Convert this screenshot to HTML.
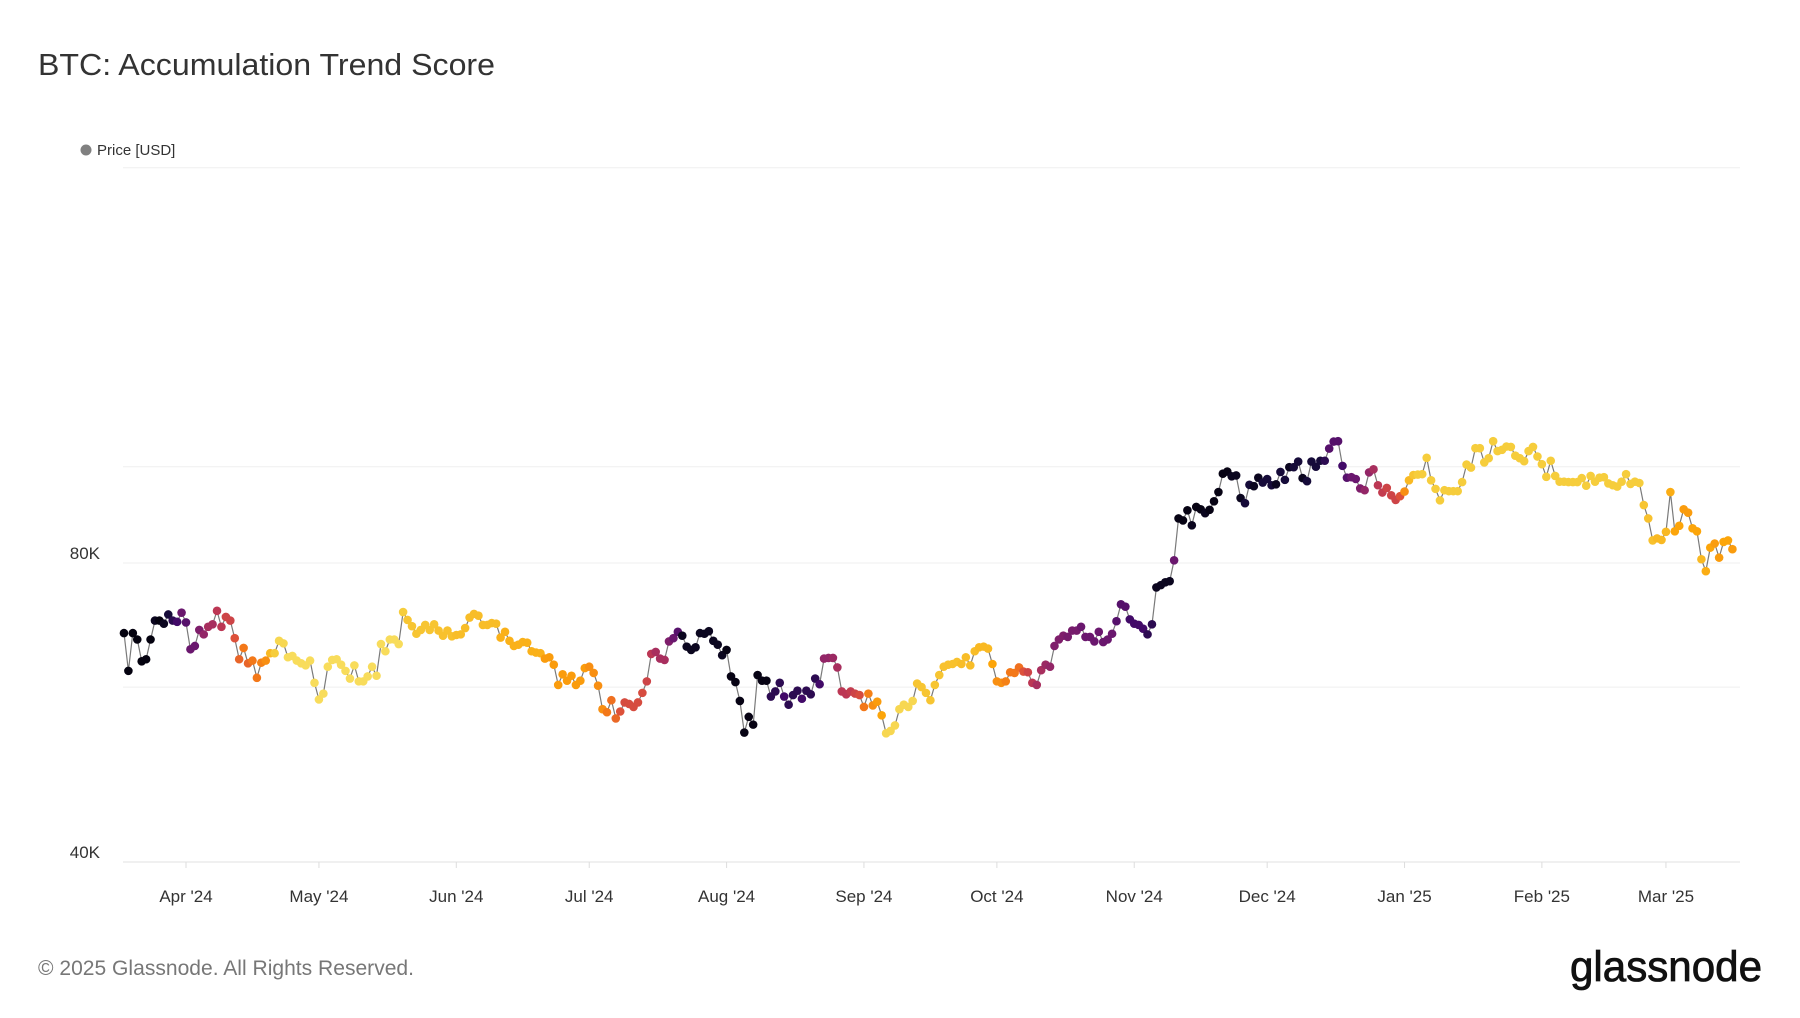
<!DOCTYPE html>
<html><head><meta charset="utf-8">
<style>
html,body{margin:0;padding:0;background:#fff;}
body{width:1800px;height:1013px;overflow:hidden;font-family:"Liberation Sans",sans-serif;}
svg text{font-family:"Liberation Sans",sans-serif;}
</style></head>
<body>
<svg id="chart" width="1800" height="1013" viewBox="0 0 1800 1013" xmlns="http://www.w3.org/2000/svg">
<text x="38" y="75" font-size="31" fill="#333" textLength="457" lengthAdjust="spacingAndGlyphs">BTC: Accumulation Trend Score</text>
<g>
<circle cx="86" cy="150" r="5.5" fill="#808080"/>
<text x="97" y="155" font-size="15" fill="#333">Price [USD]</text>
</g>
<g id="grid"></g>
<g id="yaxis"></g>
<g id="xaxis"></g>
<g id="series"></g>
<text x="38" y="975" font-size="21" fill="#777" textLength="376" lengthAdjust="spacingAndGlyphs">© 2025 Glassnode. All Rights Reserved.</text>
<text x="1762" y="981" text-anchor="end" font-size="43" fill="#111" stroke="#111" stroke-width="0.8" textLength="192" lengthAdjust="spacingAndGlyphs">glassnode</text>
</svg>
<script>
const gridValues=[40000,60000,80000,100000,200000];
const yTickValues=[40000,80000];
const yTickLabels=['40K','80K'];
const monthTickIndex=[14,44,75,105,136,167,197,228,258,289,320,348];
const monthTickLabels=["Apr '24","May '24","Jun '24","Jul '24","Aug '24","Sep '24","Oct '24","Nov '24","Dec '24","Jan '25","Feb '25","Mar '25"];
const prices=[
68000,62300,68000,67000,63700,64000,67000,70000,70000,69500,71000,70000,69800,71300,
69700,65500,66000,68500,67800,69000,69400,71600,69000,70600,70000,67200,64000,65700,63400,63800,61300,63500,63800,64900,64900,66800,66400,64300,64500,63800,63400,63100,63800,60600,
58300,59100,62900,63900,64000,63200,62300,61200,63100,60800,60800,61500,62900,61600,66300,65200,67000,67000,66300,71400,70100,69100,67900,68500,69300,68500,69400,68400,67600,68400,67500,
67700,67800,68800,70500,71100,70800,69300,69300,69600,69500,67300,68200,66800,66000,66200,66600,66500,65200,65000,64900,64100,64300,63200,60300,61800,60900,61600,60300,60900,62700,
62900,62000,60200,57000,56600,58200,55800,56700,57900,57700,57300,57900,59200,60800,64800,65100,64100,63900,66700,67200,68200,67600,65900,65400,65800,68000,67900,68300,66800,66200,64600,
65400,61500,60700,58100,54000,56000,55000,61700,60900,60900,58700,59400,60600,58700,57600,58900,59500,58400,59500,59000,61200,60400,64100,64200,64200,62800,59400,59000,59400,59100,58900,
57300,59100,57500,58000,56200,53900,54200,54900,57000,57600,57300,58100,60500,60000,59200,58200,60300,61700,62900,63200,63300,63600,63300,64300,63100,65200,65800,65900,65600,63300,
60800,60600,60800,62100,62000,62800,62200,62100,60600,60300,62400,63200,62900,66000,67000,67600,67400,68400,68400,69000,67400,67400,66700,68200,66600,67000,67900,69900,72700,72300,70200,
69500,69300,68700,67800,69400,75600,76000,76500,76700,80500,88700,88300,90400,87300,91100,90600,89800,90500,92300,94300,98400,98900,97800,98000,93000,91900,95900,95600,97500,96400,
97200,95800,96000,98800,97000,99900,99900,101200,97400,96700,101200,100000,101400,101400,104300,106000,106100,100200,97500,97600,97200,95100,94700,98700,99400,95800,94200,95200,93600,92600,93400,
94400,96900,98100,98200,98300,102100,96900,95000,92500,94700,94500,94500,94500,96500,100500,99800,104400,104400,101000,102000,106100,103700,104000,104800,104700,102600,102000,101300,103700,104700,102400,
100600,97700,101400,97900,96600,96600,96500,96500,96500,97400,95700,97900,96600,97500,97600,96200,95800,95500,96600,98300,96100,96600,96300,91500,88700,84300,84700,84400,
86000,94300,86100,87200,90600,89900,86700,86100,80700,78500,82900,83700,81000,84000,84300,82600
];
const scores=[
0.02,0.02,0.02,0.02,0.02,0.02,0.02,0.05,0.02,0.05,0.1,0.15,0.2,0.3,
0.25,0.3,0.3,0.35,0.4,0.45,0.45,0.5,0.5,0.55,0.55,0.6,0.65,0.7,0.65,0.7,0.7,0.72,0.75,0.85,0.9,0.92,0.92,0.93,0.93,0.93,0.93,0.93,0.93,0.93,
0.93,0.93,0.93,0.93,0.93,0.93,0.93,0.93,0.93,0.93,0.93,0.93,0.93,0.93,0.93,0.93,0.93,0.93,0.93,0.9,0.88,0.88,0.88,0.88,0.88,0.88,0.88,0.87,0.87,0.87,0.87,
0.86,0.86,0.86,0.86,0.86,0.86,0.86,0.86,0.86,0.86,0.83,0.83,0.83,0.83,0.83,0.83,0.83,0.83,0.83,0.83,0.78,0.78,0.78,0.78,0.78,0.78,0.78,0.78,0.78,0.78,
0.75,0.75,0.75,0.75,0.7,0.68,0.66,0.6,0.58,0.58,0.58,0.58,0.58,0.55,0.5,0.45,0.45,0.45,0.35,0.3,0.25,0.05,0.05,0.05,0.05,0.05,0.05,0.05,0.05,0.05,0.05,
0.03,0.03,0.03,0.03,0.03,0.03,0.03,0.03,0.03,0.03,0.15,0.15,0.15,0.2,0.15,0.15,0.15,0.2,0.15,0.15,0.15,0.2,0.4,0.4,0.42,0.45,0.5,0.5,0.52,0.55,0.58,
0.7,0.72,0.75,0.78,0.8,0.92,0.92,0.92,0.92,0.92,0.92,0.92,0.88,0.88,0.88,0.88,0.88,0.88,0.87,0.87,0.87,0.87,0.86,0.86,0.86,0.86,0.85,0.85,0.85,0.8,
0.75,0.75,0.72,0.7,0.7,0.68,0.6,0.55,0.5,0.45,0.45,0.42,0.4,0.35,0.35,0.35,0.33,0.33,0.33,0.3,0.3,0.3,0.3,0.3,0.3,0.3,0.3,0.25,0.25,0.25,0.2,
0.2,0.2,0.2,0.15,0.15,0.05,0.05,0.05,0.05,0.3,0.03,0.03,0.03,0.05,0.03,0.03,0.05,0.03,0.03,0.03,0.03,0.03,0.05,0.05,0.05,0.1,0.1,0.05,0.05,0.1,
0.1,0.1,0.05,0.1,0.1,0.05,0.1,0.1,0.05,0.1,0.1,0.1,0.1,0.15,0.25,0.25,0.25,0.2,0.25,0.3,0.3,0.35,0.4,0.4,0.45,0.5,0.52,0.55,0.55,0.55,0.6,
0.75,0.85,0.88,0.9,0.9,0.9,0.9,0.9,0.9,0.9,0.9,0.9,0.9,0.9,0.9,0.9,0.9,0.9,0.9,0.9,0.9,0.9,0.9,0.9,0.9,0.9,0.9,0.9,0.9,0.9,0.9,
0.9,0.9,0.9,0.9,0.9,0.9,0.9,0.9,0.9,0.9,0.9,0.9,0.9,0.9,0.9,0.9,0.9,0.9,0.9,0.9,0.9,0.9,0.9,0.88,0.87,0.87,0.85,0.85,
0.85,0.82,0.8,0.8,0.78,0.78,0.8,0.8,0.85,0.82,0.8,0.78,0.78,0.8,0.8,0.78
];
const NS='http://www.w3.org/2000/svg';
const X0=123,X1=1740,Y40=862,PXD=299;
function xScale(i){return 186+(i-14)*4.431;}
function yScale(p){return Y40-PXD*Math.log2(p/40000);}
const stops=[[0,0,0,4],[0.1,22,11,57],[0.2,66,10,104],[0.3,106,23,110],[0.4,147,38,103],[0.5,188,55,84],[0.6,221,81,58],[0.7,243,120,25],[0.8,252,165,10],[0.9,246,205,60],[1,252,255,164]];
function color(s){for(let k=1;k<stops.length;k++){if(s<=stops[k][0]){const a=stops[k-1],b=stops[k],t=(s-a[0])/(b[0]-a[0]);return 'rgb('+[1,2,3].map(j=>Math.round(a[j]+(b[j]-a[j])*t)).join(',')+')';}}return 'rgb(252,255,164)';}
function mk(tag,attrs,parent){const e=document.createElementNS(NS,tag);for(const k in attrs)e.setAttribute(k,attrs[k]);parent.appendChild(e);return e;}
const grid=document.getElementById('grid');
gridValues.forEach(v=>{
  const l=mk('line',{x1:X0,x2:X1,y1:yScale(v),y2:yScale(v),stroke:v===40000?'#e2e2e2':'#efefef','stroke-width':1},grid);
  
  
});
const ya=document.getElementById('yaxis');
yTickValues.forEach((v,i)=>{
  const t=mk('text',{x:100,y:yScale(v)-4,'text-anchor':'end','font-size':17,fill:'#333'},ya);
  t.textContent=yTickLabels[i];
  
  
});
const xa=document.getElementById('xaxis');
monthTickIndex.forEach((d,i)=>{
  const x=xScale(d);
  const tk=mk('line',{x1:x,x2:x,y1:Y40,y2:Y40+6,stroke:'#ddd','stroke-width':1},xa);
  
  
  const t=mk('text',{x:x,y:902,'text-anchor':'middle','font-size':17,fill:'#333'},xa);
  t.textContent=monthTickLabels[i];
  
  
});
const sg=document.getElementById('series');
const pts=prices.map((p,i)=>xScale(i).toFixed(1)+','+yScale(p).toFixed(1)).join(' ');
const line=mk('polyline',{points:pts,fill:'none',stroke:'#7a7a7a','stroke-width':1.2},sg);


prices.forEach((p,i)=>{
  const c=mk('circle',{cx:xScale(i),cy:yScale(p),r:4.3,fill:color(scores[i])},sg);
  
  
});
</script>
</body></html>
